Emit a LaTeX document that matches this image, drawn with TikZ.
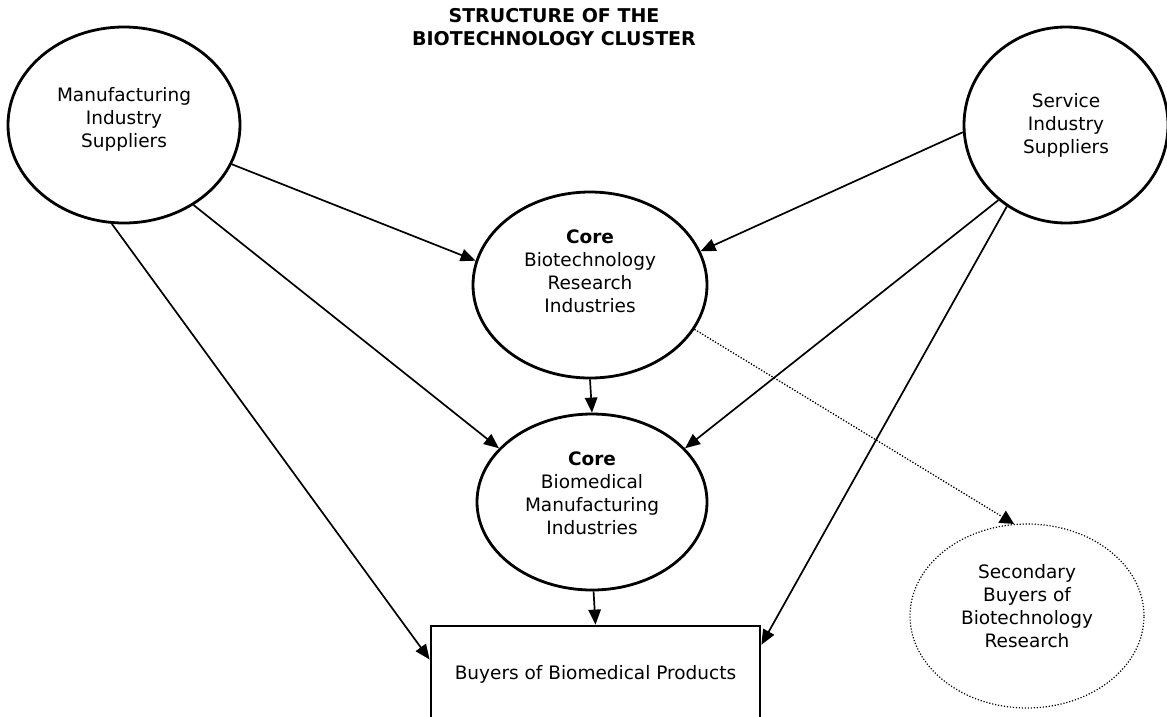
\documentclass[tikz,border=0pt]{standalone}
\usepackage{fontspec}
\setmainfont{DejaVu Sans}
\usetikzlibrary{arrows.meta,shapes.geometric}
\begin{document}
\begin{tikzpicture}[x=1pt,y=-1pt,
  body/.style={font=\fontsize{18.5}{23}\selectfont},
  blob/.style={draw,ellipse,line width=2.8pt,inner sep=0pt},
  dotblob/.style={draw,ellipse,line width=1.2pt,dash pattern=on 1.2pt off 1.8pt,inner sep=0pt},
  lab/.style={body,align=center},
  arr/.style={line width=1.7pt,-{Triangle[length=15pt,width=12.5pt]}},
  dotarr/.style={line width=1.3pt,dash pattern=on 1.3pt off 1.7pt,-{Triangle[length=14pt,width=14pt]}}
]
\useasboundingbox (0,0) rectangle (1167,716);

\node[font=\bfseries\fontsize{19}{23}\selectfont,align=center] (title) at (554,27.5)
  {STRUCTURE OF THE\\BIOTECHNOLOGY CLUSTER};

\node[blob,minimum width=232pt,minimum height=196pt,
  label={[lab,yshift=6pt]center:Manufacturing\\Industry\\Suppliers}] (m) at (124,125) {};
\node[blob,minimum width=204pt,minimum height=196pt,
  label={[lab,yshift=0pt]center:Service\\Industry\\Suppliers}] (s) at (1066,125) {};
\node[blob,minimum width=234pt,minimum height=186pt,
  label={[lab,yshift=14pt]center:\textbf{Core}\\Biotechnology\\Research\\Industries}] (cr) at (590,285) {};
\node[blob,minimum width=230pt,minimum height=176pt,
  label={[lab,yshift=8.5pt]center:\textbf{Core}\\Biomedical\\Manufacturing\\Industries}] (cb) at (592,502) {};
\node[dotblob,minimum width=234pt,minimum height=184pt,
  label={[lab,yshift=10pt]center:Secondary\\Buyers of\\Biotechnology\\Research}] (sb) at (1027,616) {};
\node[draw,rectangle,line width=2.8pt,minimum width=329pt,minimum height=96pt,body,inner sep=0pt] (b) at (595.5,674)
  {Buyers of Biomedical Products};

\draw[arr] (m.-20.3) -- (cr.168.7);
\draw[arr] (m.-49.3) -- (cb.150.1);
\draw[arr] (m.-97) -- (b.175.1);
\draw[arr] (s.184.5) -- (cr.17.8);
\draw[arr] (s.-132.4) -- (cb.30.7);
\draw[arr] (s.-126) -- (b.10);
\draw[arr] (cr.-90) -- (cb.90);
\draw[arr] (cb.-89) -- (b.north);
\draw[dotarr] (cr.-23.1) -- (sb.98.9);
\end{tikzpicture}
\end{document}
